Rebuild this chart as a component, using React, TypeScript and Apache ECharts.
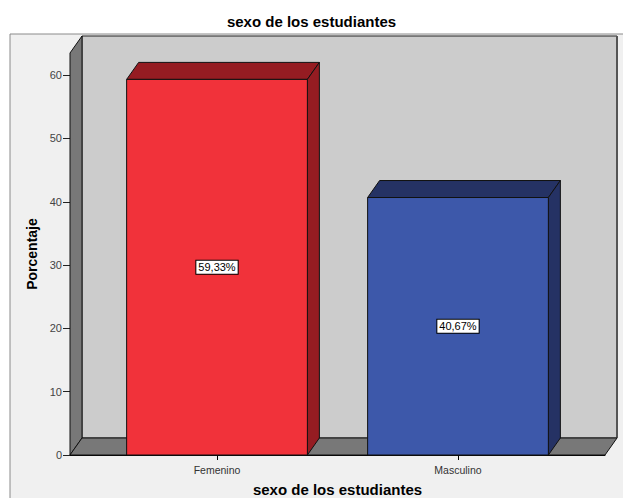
import React, { useEffect, useRef } from "react";
import * as echarts from "echarts";

const TITLE = "sexo de los estudiantes";
const X_NAME = "sexo de los estudiantes";
const Y_NAME = "Porcentaje";
const CATEGORIES = ["Femenino", "Masculino"];
const PERCENTAGES = [59.33, 40.67];
const FRONT_COLORS = ["#F1323A", "#3D58AA"];
const DARK_COLORS = ["#951C22", "#253264"];
const Y_TICKS = [0, 10, 20, 30, 40, 50, 60];
const Y_MIN = 0;
const Y_MAX = 63.5;
const X_MIN = -0.61;
const X_MAX = 1.61;
const BAR_W = 0.75;
const DEPTH_X = 12;
const DEPTH_Y = -17;
const FONT = "'Liberation Sans', Arial, sans-serif";

const fmt = (v: number) => v.toFixed(2).replace(".", ",") + "%";

export default function App() {
  const ref = useRef<HTMLDivElement>(null);
  useEffect(() => {
    if (!ref.current) return;
    const chart = echarts.init(ref.current, null, { renderer: "svg" });
    const barData = PERCENTAGES.map((v, i) => [i, v]);
    const catIdx = CATEGORIES.map((_, i) => i);
    chart.setOption({
      animation: false,
      backgroundColor: "#ffffff",
      textStyle: { fontFamily: FONT },
      title: {
        text: TITLE,
        left: "center",
        top: 9,
        textStyle: { fontFamily: FONT, fontSize: 15, fontWeight: "bold", color: "#000" },
      },
      graphic: [
        {
          type: "rect",
          z: -10,
          silent: true,
          shape: { x: 10, y: 34, width: 660, height: 520 },
          style: { fill: "#F0F0F0", stroke: "#8a8a8a", lineWidth: 1 },
        },
      ],
      grid: {
        left: 70,
        top: 53,
        width: 535,
        height: 402,
        containLabel: false,
        outerBoundsMode: "none",
      },
      xAxis: {
        type: "value",
        min: X_MIN,
        max: X_MAX,
        name: X_NAME,
        nameLocation: "middle",
        nameGap: 27,
        nameTextStyle: { fontFamily: FONT, fontSize: 15, fontWeight: "bold", color: "#000" },
        axisLine: { show: true, onZero: false, lineStyle: { color: "#000", width: 1 } },
        axisTick: { show: true, customValues: catIdx, length: 5, lineStyle: { color: "#000" } },
        axisLabel: {
          customValues: catIdx,
          formatter: (v: number) => CATEGORIES[Math.round(v)] ?? "",
          fontFamily: FONT,
          fontSize: 10.5,
          color: "#333",
          margin: 9,
        },
        splitLine: { show: false },
      },
      yAxis: {
        type: "value",
        min: Y_MIN,
        max: Y_MAX,
        name: Y_NAME,
        nameLocation: "middle",
        nameRotate: 90,
        nameGap: 26,
        nameTextStyle: { fontFamily: FONT, fontSize: 14, fontWeight: "bold", color: "#000" },
        axisLine: { show: true, onZero: false, lineStyle: { color: "#000", width: 1 } },
        axisTick: { show: true, customValues: Y_TICKS, length: 7, lineStyle: { color: "#222" } },
        axisLabel: { customValues: Y_TICKS, fontFamily: FONT, fontSize: 11, color: "#444", margin: 8 },
        splitLine: { show: false },
      },
      series: [
        {
          type: "custom",
          name: "walls",
          silent: true,
          z: 1,
          clip: false,
          data: [[0, 0]],
          renderItem: (params: any) => {
            const cs = params.coordSys;
            const x = cs.x, y = cs.y, w = cs.width, h = cs.height;
            const b = y + h;
            return {
              type: "group",
              children: [
                {
                  type: "rect",
                  shape: { x: x + DEPTH_X, y: y + DEPTH_Y, width: w, height: h },
                  style: { fill: "#CCCCCC", stroke: "#222", lineWidth: 1 },
                },
                {
                  type: "line",
                  shape: { x1: x + w + DEPTH_X, y1: y + DEPTH_Y, x2: x + w + DEPTH_X, y2: b + DEPTH_Y },
                  style: { stroke: "#555", lineWidth: 2 },
                },
                {
                  type: "polygon",
                  shape: { points: [[x, b], [x, y], [x + DEPTH_X, y + DEPTH_Y], [x + DEPTH_X, b + DEPTH_Y]] },
                  style: { fill: "#787878", stroke: "#111", lineWidth: 1 },
                },
                {
                  type: "polygon",
                  shape: { points: [[x, b], [x + w, b], [x + w + DEPTH_X, b + DEPTH_Y], [x + DEPTH_X, b + DEPTH_Y]] },
                  style: { fill: "#787878", stroke: "#111", lineWidth: 1 },
                },
              ],
            };
          },
        },
        {
          type: "custom",
          name: "Porcentaje",
          z: 3,
          clip: false,
          data: barData,
          renderItem: (params: any, api: any) => {
            const i = params.dataIndex;
            const xv = api.value(0);
            const v = api.value(1);
            const tl = api.coord([xv - BAR_W / 2, v]);
            const br = api.coord([xv + BAR_W / 2, 0]);
            const x0 = tl[0], y0 = tl[1], x1 = br[0], y1 = br[1];
            const dark = DARK_COLORS[i];
            return {
              type: "group",
              children: [
                {
                  type: "polygon",
                  shape: { points: [[x0, y0], [x1, y0], [x1 + DEPTH_X, y0 + DEPTH_Y], [x0 + DEPTH_X, y0 + DEPTH_Y]] },
                  style: { fill: dark, stroke: "#111", lineWidth: 1 },
                },
                {
                  type: "polygon",
                  shape: { points: [[x1, y0], [x1 + DEPTH_X, y0 + DEPTH_Y], [x1 + DEPTH_X, y1 + DEPTH_Y], [x1, y1]] },
                  style: { fill: dark, stroke: "#111", lineWidth: 1 },
                },
                {
                  type: "rect",
                  shape: { x: x0, y: y0, width: x1 - x0, height: y1 - y0 },
                  style: { fill: FRONT_COLORS[i], stroke: "#111", lineWidth: 1 },
                },
                {
                  type: "text",
                  z2: 10,
                  style: {
                    text: fmt(v),
                    x: (x0 + x1) / 2,
                    y: (y0 + y1) / 2,
                    align: "center",
                    verticalAlign: "middle",
                    fontFamily: FONT,
                    fontSize: 11,
                    fill: "#000",
                    backgroundColor: "#ffffff",
                    borderColor: "#000",
                    borderWidth: 1,
                    padding: [1, 2],
                  },
                },
              ],
            };
          },
        },
      ],
    });
    return () => chart.dispose();
  }, []);
  return (
    <div
      ref={ref}
      style={{ position: "fixed", left: 0, top: 0, width: 623, height: 498 }}
    />
  );
}
